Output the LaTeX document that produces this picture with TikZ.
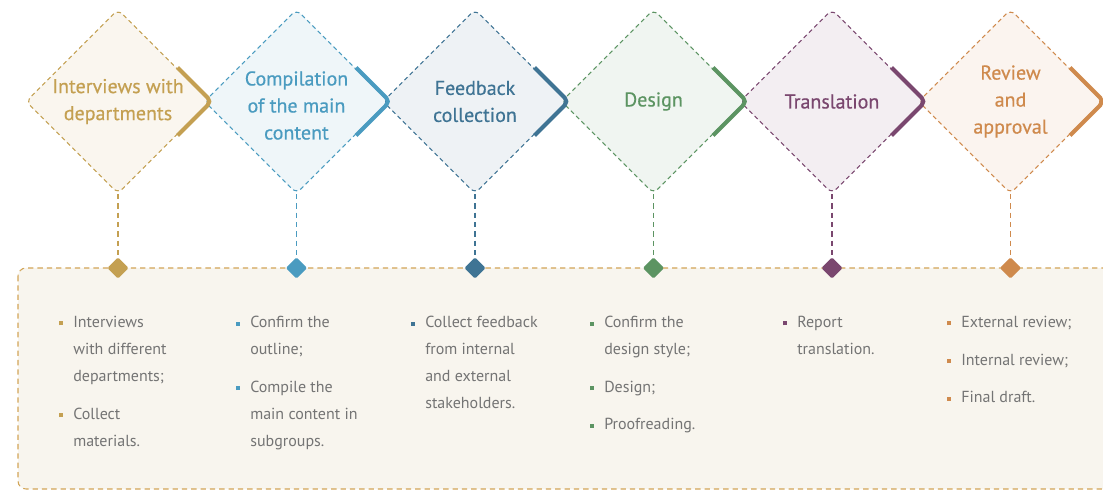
\documentclass[tikz,border=0pt]{standalone}
\usepackage{fontspec}
\setmainfont{PT Sans}
\newfontfamily\headfont[FakeBold=0.5]{PT Sans}
\usepackage{xcolor}
\usetikzlibrary{calc,shapes.geometric}
\definecolor{tanc}{HTML}{C4A052}
\definecolor{skyc}{HTML}{4A9BC0}
\definecolor{steelc}{HTML}{3F7494}
\definecolor{sagec}{HTML}{5C9462}
\definecolor{plumc}{HTML}{7A476F}
\definecolor{copperc}{HTML}{CF8A4D}
\definecolor{bodytxt}{HTML}{747474}
\definecolor{panelbg}{HTML}{F8F5EE}
\definecolor{panelline}{HTML}{D2A557}
\newcommand{\bul}[1]{\llap{\textcolor{#1}{\rule[1.6pt]{3pt}{3pt}}\hspace{7.5pt}}}
\tikzset{
  stagebox/.style={diamond, draw=#1, fill=#1!9, line width=0.8pt, dash pattern=on 3.2pt off 2.4pt,
    rounded corners=4.5pt, minimum width=138pt, minimum height=138pt, inner sep=0pt},
  stagehead/.style={text=#1, font=\headfont\fontsize{15}{20.25}\selectfont, align=center},
  chevron/.style={draw=#1, line width=3pt, rounded corners=4pt},
  drop/.style={draw=#1, line width=0.8pt, dash pattern=on 4pt off 3pt},
  knot/.style={diamond, fill=#1, inner sep=0pt, minimum width=16pt, minimum height=16pt, rounded corners=1pt},
  panel/.style={draw=panelline, fill=panelbg, line width=0.8pt, dash pattern=on 4pt off 3pt, rounded corners=6pt},
  itemtxt/.style={text=bodytxt, font=\fontsize{12}{20.25}\selectfont, align=left, inner sep=0pt, anchor=north west},
}
\begin{document}
\begin{tikzpicture}[x=0.75pt, y=-0.75pt]
  \useasboundingbox (0,0) rectangle (1103,491);
  \clip (0,0) rectangle (1103,491);

  % lower panel
  \draw[panel] (18,268) rectangle (1130,489);

  % stages
  \node[stagebox=tanc]    (d1) at (118,101.5) {};
  \node[stagebox=skyc]    (d2) at (296.5,101.5) {};
  \node[stagebox=steelc]  (d3) at (475,101.5) {};
  \node[stagebox=sagec]   (d4) at (653.5,101.5) {};
  \node[stagebox=plumc]   (d5) at (832,101.5) {};
  \node[stagebox=copperc] (d6) at (1010.5,101.5) {};

  \draw[chevron=tanc]    ($(d1.east)+(-33,-34)$) -- ($(d1.east)+(1,0)$) -- ($(d1.east)+(-33,34)$);
  \draw[chevron=skyc]    ($(d2.east)+(-33,-34)$) -- ($(d2.east)+(1,0)$) -- ($(d2.east)+(-33,34)$);
  \draw[chevron=steelc]  ($(d3.east)+(-33,-34)$) -- ($(d3.east)+(1,0)$) -- ($(d3.east)+(-33,34)$);
  \draw[chevron=sagec]   ($(d4.east)+(-33,-34)$) -- ($(d4.east)+(1,0)$) -- ($(d4.east)+(-33,34)$);
  \draw[chevron=plumc]   ($(d5.east)+(-33,-34)$) -- ($(d5.east)+(1,0)$) -- ($(d5.east)+(-33,34)$);
  \draw[chevron=copperc] ($(d6.east)+(-33,-34)$) -- ($(d6.east)+(1,0)$) -- ($(d6.east)+(-33,34)$);

  \node[stagehead=tanc]    (t1) at (d1) {Interviews with\\departments};
  \node[stagehead=skyc]    (t2) at ($(d2)+(0,4)$) {Compilation\\of the main\\content};
  \node[stagehead=steelc]  (t3) at (d3) {Feedback\\collection};
  \node[stagehead=sagec]   (t4) at (d4) {Design};
  \node[stagehead=plumc]   (t5) at (d5) {Translation};
  \node[stagehead=copperc] (t6) at (d6) {Review\\and\\approval};

  % drops to the panel
  \node[knot=tanc]    (k1) at (118,268) {};
  \node[knot=skyc]    (k2) at (296.5,268) {};
  \node[knot=steelc]  (k3) at (475,268) {};
  \node[knot=sagec]   (k4) at (653.5,268) {};
  \node[knot=plumc]   (k5) at (832,268) {};
  \node[knot=copperc] (k6) at (1010.5,268) {};
  \draw[drop=tanc]    (d1.south) -- (k1.north);
  \draw[drop=skyc]    (d2.south) -- (k2.north);
  \draw[drop=steelc]  (d3.south) -- (k3.north);
  \draw[drop=sagec]   (d4.south) -- (k4.north);
  \draw[drop=plumc]   (d5.south) -- (k5.north);
  \draw[drop=copperc] (d6.south) -- (k6.north);

  % task lists
  \node[itemtxt] (c1) at (73,316) {\bul{tanc}Interviews\\with different\\departments;\\[8pt]\bul{tanc}Collect\\materials.};
  \node[itemtxt] (c2) at (250,316) {\bul{skyc}Confirm the\\outline;\\[8pt]\bul{skyc}Compile the\\main content in\\subgroups.};
  \node[itemtxt] (c3) at (425,316) {\bul{steelc}Collect feedback\\from internal\\and external\\stakeholders.};
  \node[itemtxt] (c4) at (604,316) {\bul{sagec}Confirm the\\design style;\\[8pt]\bul{sagec}Design;\\[8pt]\bul{sagec}Proofreading.};
  \node[itemtxt] (c5) at (797,316) {\bul{plumc}Report\\translation.};
  \node[itemtxt] (c6) at (961,316) {\bul{copperc}External review;\\[8pt]\bul{copperc}Internal review;\\[8pt]\bul{copperc}Final draft.};
\end{tikzpicture}
\end{document}
